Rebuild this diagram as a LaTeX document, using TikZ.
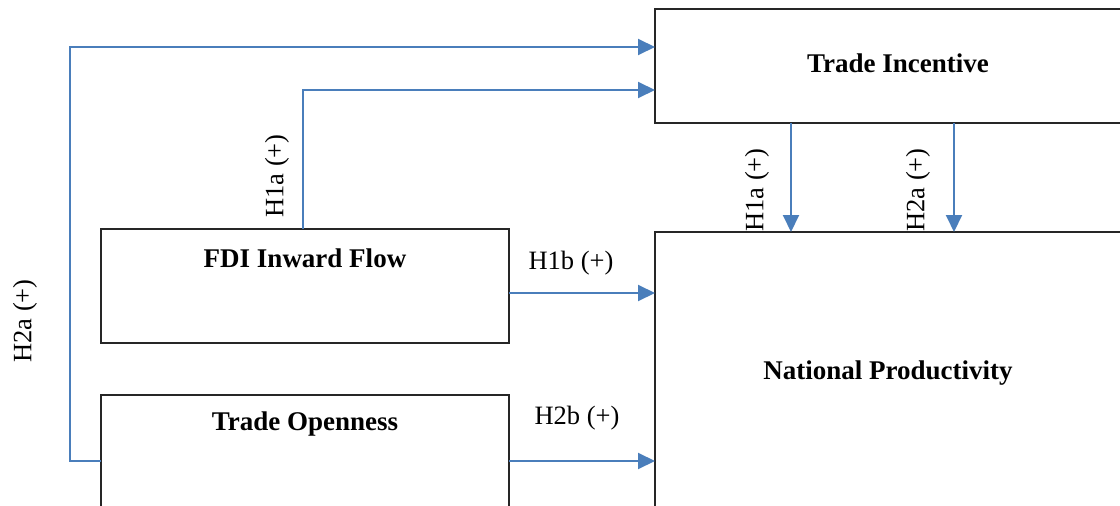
\documentclass[tikz,border=0pt]{standalone}
\usepackage{fontspec}
\setmainfont{Liberation Serif}
\usetikzlibrary{arrows.meta}
\definecolor{lineblue}{HTML}{4A7EBB}
\tikzset{
  box/.style={draw=black!85, line width=1.5pt, rectangle, anchor=north west, inner sep=0pt, outer sep=0pt},
  title/.style={font=\fontsize{27}{31}\selectfont\bfseries, inner sep=0pt},
  lbl/.style={font=\fontsize{26.5}{30}\selectfont, inner sep=0pt},
  arr/.style={draw=lineblue, line width=2pt, -{Triangle[length=17pt,width=16pt]}},
}
\begin{document}
\begin{tikzpicture}[x=1pt,y=-1pt]
\useasboundingbox (0,0) rectangle (1120,506);
\clip (0,0) rectangle (1120,506);
% boxes
\node[box, minimum width=520pt, minimum height=114pt] (ti) at (655,9) {};
\node[box, minimum width=408pt, minimum height=114pt] (fdi) at (101,229) {};
\node[box, minimum width=408pt, minimum height=160pt] (to) at (101,395) {};
\node[box, minimum width=520pt, minimum height=320pt] (np) at (655,232) {};
% titles
\node[title] (tit) at (898,63) {Trade Incentive};
\node[title] (fdit) at (305,258) {FDI Inward Flow};
\node[title] (tot) at (305,424) {Trade Openness};
\node[title] (npt) at (888,373) {National Productivity};
% helper coordinates
\coordinate (yA) at (0,47);
\coordinate (yB) at (0,90);
\coordinate (yC) at (0,293);
\coordinate (yD) at (0,461);
\coordinate (xL) at (70,0);
\coordinate (xF) at (303,0);
\coordinate (x1) at (791,0);
\coordinate (x2) at (954,0);
\coordinate (bendL) at (xL |- yD);
% connectors
\draw[arr] (to.west |- yD) -- (bendL) |- (ti.west |- yA);
\draw[arr] (xF |- fdi.north) |- (ti.west |- yB);
\draw[arr] (x1 |- ti.south) -- (x1 |- np.north);
\draw[arr] (x2 |- ti.south) -- (x2 |- np.north);
\draw[arr] (fdi.east |- yC) -- (np.west |- yC);
\draw[arr] (to.east |- yD) -- (np.west |- yD);
% labels
\node[lbl, rotate=90] (l1) at (277,176) {H1a (+)};
\node[lbl, rotate=90] (l2) at (25,321) {H2a (+)};
\node[lbl, rotate=90] (l3) at (757,190) {H1a (+)};
\node[lbl, rotate=90] (l4) at (918,190) {H2a (+)};
\node[lbl] (l5) at (571,263) {H1b (+)};
\node[lbl] (l6) at (577,418) {H2b (+)};
\end{tikzpicture}
\end{document}
